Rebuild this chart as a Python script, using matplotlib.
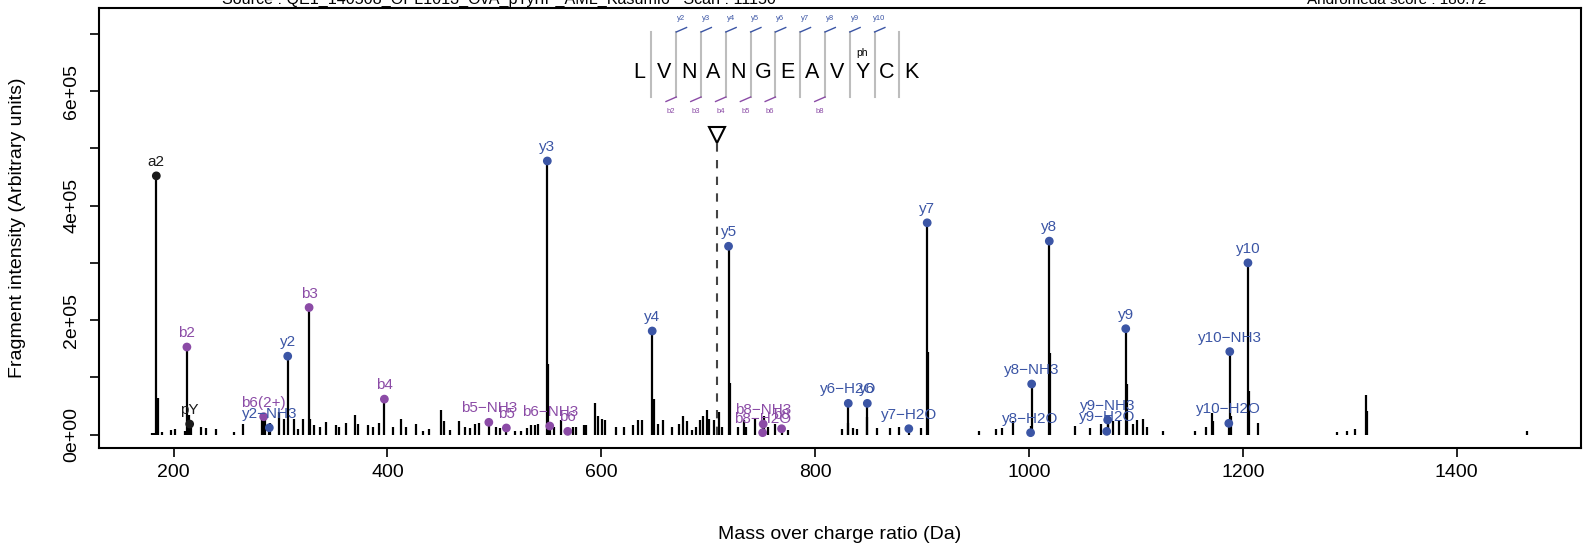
import matplotlib
matplotlib.use('Agg')
import matplotlib.pyplot as plt

plt.rcParams['font.family'] = ['Liberation Sans', 'DejaVu Sans']

# unannotated fragment peaks (m/z, intensity)
noise_mz = [180.0, 181.9, 185.7, 189.5, 197.1, 201.0, 210.5, 214.3, 216.2, 225.2,
            230.5, 240.0, 256.0, 264.8, 282.4, 285.7, 290.5, 298.6, 302.9, 312.6,
            316.2, 321.0, 327.8, 331.4, 336.6, 342.2, 352.0, 355.0, 360.9, 369.3,
            372.2, 381.9, 386.5, 392.4, 405.2, 413.0, 417.7, 426.7, 433.2, 439.0,
            449.8, 452.6, 458.2, 467.0, 472.4, 477.0, 481.9, 485.7, 501.9, 505.0,
            519.0, 525.2, 530.5, 534.7, 537.7, 540.9, 550.2, 556.2, 561.9, 573.3,
            576.1, 583.6, 586.1, 593.9, 597.1, 600.2, 603.2, 613.3, 621.0, 629.8,
            634.3, 638.5, 648.9, 653.3, 658.1, 665.7, 672.4, 676.6, 679.7, 684.4,
            688.6, 692.3, 695.5, 698.4, 700.9, 705.7, 710.5, 713.3, 720.2, 727.6,
            733.3, 735.2, 743.8, 752.4, 756.2, 762.9, 774.8, 824.8, 830.5, 835.2,
            839.0, 848.6, 858.1, 870.0, 878.1, 898.9, 905.7, 953.2, 968.8, 975.2,
            984.8, 1002.0, 1020.0, 1042.9, 1057.1, 1067.6, 1074.0, 1079.0, 1084.2, 1091.4,
            1097.1, 1101.3, 1107.0, 1110.5, 1125.0, 1155.2, 1165.7, 1170.9, 1172.0, 1188.6,
            1205.7, 1214.3, 1287.9, 1297.8, 1304.8, 1315.2, 1316.2, 1465.7]
noise_int = [3e3, 3e3, 6.4e4, 4e3, 8e3, 9e3, 7e3, 3.4e4, 2.2e4, 1.4e4,
             1.2e4, 1e4, 5e3, 1.8e4, 3.7e4, 3.5e4, 2.1e4, 4e4, 2.8e4, 2.8e4,
             9e3, 2.8e4, 2.8e4, 1.6e4, 1.4e4, 2.2e4, 1.6e4, 1.4e4, 2.1e4, 3.4e4,
             1.8e4, 1.6e4, 1.4e4, 2.1e4, 1.4e4, 2.8e4, 1.4e4, 1.8e4, 6e3, 9e3,
             4.3e4, 2.3e4, 8e3, 2.4e4, 1.4e4, 1.2e4, 1.8e4, 2e4, 1.3e4, 1.2e4,
             6e3, 7e3, 1.2e4, 1.6e4, 1.6e4, 1.8e4, 1.24e5, 1.4e4, 2.5e4, 1.4e4,
             1.4e4, 1.6e4, 1.6e4, 5.5e4, 3.2e4, 2.8e4, 2.5e4, 1.4e4, 1.4e4, 1.6e4,
             2.5e4, 2.5e4, 6.2e4, 1.8e4, 2.5e4, 1.4e4, 1.8e4, 3.3e4, 2.4e4, 8e3,
             1.4e4, 2.5e4, 3.2e4, 4.3e4, 2.8e4, 2.5e4, 3.9e4, 1.4e4, 9e4, 1.4e4,
             2.5e4, 1.4e4, 2.8e4, 3.2e4, 1.4e4, 1.8e4, 8e3, 9e3, 2e4, 1.1e4,
             9e3, 3e4, 1.1e4, 1.2e4, 1.4e4, 1.2e4, 1.45e5, 6e3, 9e3, 1.2e4,
             2.3e4, 1.5e4, 1.42e5, 1.5e4, 1.1e4, 1.8e4, 3.2e4, 2.4e4, 2.4e4, 8.9e4,
             1.8e4, 2.5e4, 2.7e4, 1.4e4, 7e3, 7e3, 1.4e4, 3.8e4, 2.4e4, 3.2e4,
             7.7e4, 2.1e4, 5e3, 7e3, 9e3, 6.9e4, 4.1e4, 7e3]

# annotated fragment ions
ion_labels = ['a2', 'pY', 'b2', 'b6(2+)', 'y2\u2212NH3', 'y2', 'b3', 'b4', 'b5\u2212NH3', 'b5',
              'y3', 'b6\u2212NH3', 'b6', 'y4', 'y5', 'b8\u2212NH3', 'b8\u2212H2O', 'b8',
              'y6\u2212H2O', 'y6', 'y7\u2212H2O', 'y7', 'y8\u2212H2O', 'y8\u2212NH3', 'y8',
              'y9\u2212H2O', 'y9\u2212NH3', 'y9', 'y10\u2212H2O', 'y10\u2212NH3', 'y10']
ion_mz = [183.8, 215.0, 212.4, 284.2, 289.5, 306.7, 326.7, 397.1, 494.8, 511.2,
          549.5, 551.8, 568.6, 647.6, 719.0, 751.4, 750.9, 768.6,
          831.0, 848.8, 887.6, 904.8, 1001.5, 1002.5, 1019.0,
          1072.7, 1073.6, 1090.5, 1186.9, 1187.8, 1204.8]
ion_int = [4.52e5, 1.85e4, 1.53e5, 3.13e4, 1.2e4, 1.37e5, 2.22e5, 6.2e4, 2.15e4, 1.16e4,
           4.78e5, 1.5e4, 5.7e3, 1.81e5, 3.29e5, 1.85e4, 3.4e3, 1.03e4,
           5.46e4, 5.46e4, 1.03e4, 3.70e5, 3.4e3, 8.84e4, 3.38e5,
           5.7e3, 2.56e4, 1.85e5, 1.97e4, 1.45e5, 3.00e5]
ion_series = ['other', 'other', 'b', 'b', 'y', 'y', 'b', 'b', 'b', 'b',
              'y', 'b', 'b', 'y', 'y', 'b', 'b', 'b',
              'y', 'y', 'y', 'y', 'y', 'y', 'y',
              'y', 'y', 'y', 'y', 'y', 'y']

precursor_mz = 708.6
precursor_int = 5.23e5

sequence = 'LVNANGEAVYCK'
y_sites = [2, 3, 4, 5, 6, 7, 8, 9, 10]
b_sites = [2, 3, 4, 5, 6, 8]
phospho_pos = 9

series_color = {'b': '#8B4BA6', 'y': '#3B55A5', 'other': '#1A1A1A'}

fig = plt.figure(figsize=(15.96, 5.52), dpi=100)
ax = fig.add_axes([0.0619, 0.1888, 0.9285, 0.7965])

ax.vlines(noise_mz, 0, noise_int, color='black', lw=1.6)
ax.vlines(ion_mz, 0, ion_int, color='black', lw=1.6)
cols = [series_color[s] for s in ion_series]
ax.scatter(ion_mz, ion_int, c=cols, s=28, zorder=3)
for lab, mz, it, c in zip(ion_labels, ion_mz, ion_int, cols):
    ax.annotate(lab, (mz, it), xytext=(0, 5), textcoords='offset points',
                ha='center', va='bottom', color=c, fontsize=11)

# precursor
ax.plot([precursor_mz, precursor_mz], [0, precursor_int], ls=(0, (4, 4)),
        color='#444444', lw=1.5)
ax.plot(precursor_mz, precursor_int, marker='v', ms=11, mfc='white',
        mec='black', mew=1.5, zorder=4)

# peptide sequence with fragment coverage
x0, dx = 0.3646, 0.01673
y_top, y_bot = 0.9457, 0.7978
for i, aa in enumerate(sequence):
    ax.text(x0 + i * dx, 0.854, aa, transform=ax.transAxes, ha='center',
            va='center', fontsize=15.5)
for k in range(1, len(sequence)):
    xs = x0 + (k - 0.5) * dx
    ax.plot([xs, xs], [y_bot, y_top], transform=ax.transAxes, color='#BDBDBD', lw=1.5)
for k in y_sites:
    xs = x0 + (k - 0.5) * dx
    ax.plot([xs, xs + 0.00695], [y_top, y_top + 0.0102], transform=ax.transAxes,
            color=series_color['y'], lw=1.0)
    ax.text(xs + 0.0032, 0.9768, 'y%d' % k, transform=ax.transAxes, ha='center',
            va='center', fontsize=5.5, color=series_color['y'])
for k in b_sites:
    xs = x0 + (k - 0.5) * dx
    ax.plot([xs, xs - 0.00695], [y_bot, y_bot - 0.0102], transform=ax.transAxes,
            color=series_color['b'], lw=1.0)
    ax.text(xs - 0.0036, 0.7644, 'b%d' % k, transform=ax.transAxes, ha='center',
            va='center', fontsize=5.5, color=series_color['b'])
ax.text(x0 + phospho_pos * dx, 0.898, 'ph', transform=ax.transAxes, ha='center',
        va='center', fontsize=7.5)

ax.set_xlim(130, 1516)
ax.set_ylim(-0.23e5, 7.45e5)
ax.set_xticks([200, 400, 600, 800, 1000, 1200, 1400])
ax.set_yticks([i * 1e5 for i in range(8)])
ax.set_yticklabels(['0e+00', '', '2e+05', '', '4e+05', '', '6e+05', ''])
ax.tick_params(axis='both', direction='out', length=6.5, width=1.2, labelsize=14)
ax.tick_params(axis='x', pad=5)
ax.tick_params(axis='y', pad=7)
for lab in ax.get_yticklabels():
    lab.set_rotation(90)
    lab.set_va('center')
for sp in ax.spines.values():
    sp.set_linewidth(1.5)

fig.text(0.526, 0.0326, 'Mass over charge ratio (Da)', ha='center', va='center', fontsize=14)
fig.text(0.0112, 0.587, 'Fragment intensity (Arbitrary units)', ha='center', va='center',
         rotation=90, fontsize=14)

fig.text(0.3125, 0.9928, 'Source : QE1_140508_OPL1013_OvA_pTyrIP_AML_Kasumi6   Scan : 11150',
         ha='center', va='baseline', fontsize=11.6)
fig.text(0.875, 0.9928, 'Andromeda score : 180.72', ha='center', va='baseline', fontsize=11)

fig.savefig('out.png', dpi=100)
